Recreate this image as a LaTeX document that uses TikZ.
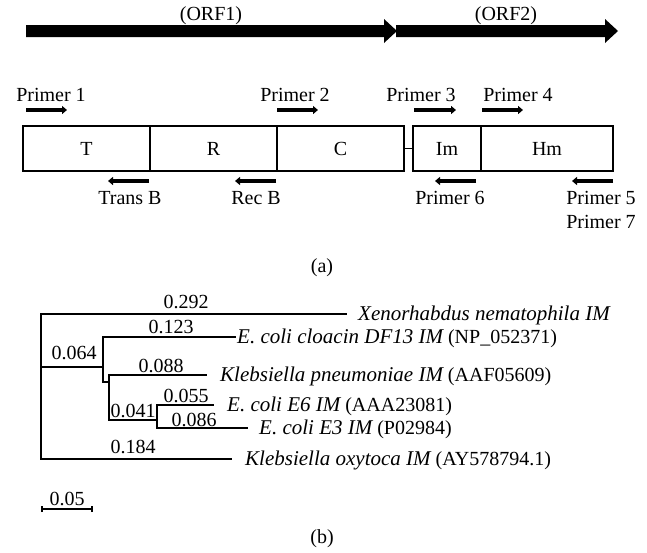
\documentclass[tikz,border=0pt]{standalone}
\usepackage{fontspec}
\setmainfont{Liberation Serif}
\usetikzlibrary{arrows.meta}
\newcommand{\taxit}[1]{{\fontsize{21}{24}\selectfont\itshape #1}}
\begin{document}
\begin{tikzpicture}[x=1pt,y=-1pt,
  lbl/.style={inner sep=0pt, font=\fontsize{20}{24}\selectfont, anchor=base},
  taxon/.style={lbl, anchor=base west},
  seg/.style={draw, line width=1.1pt, inner sep=0pt, minimum height=45pt, font=\fontsize{20}{24}\selectfont},
  primerarrow/.style={line width=3.8pt, -{Triangle[length=5pt,width=8pt]}},
  orf/.style={fill=black},
  treeline/.style={line width=1.2pt, line cap=rect}]
\useasboundingbox (0,0) rectangle (647,552);
% ---------- (a) ----------
\fill[orf] (26,25) -- (384,25) -- (384,19) -- (397,31) -- (384,43) -- (384,37) -- (26,37) -- cycle;
\fill[orf] (396,25) -- (605,25) -- (605,19) -- (618,31) -- (605,43) -- (605,37) -- (396,37) -- cycle;
\node[lbl] (orf1) at (211,20) {(ORF1)};
\node[lbl] (orf2) at (506,20) {(ORF2)};

\node[lbl] (pr1) at (51,101.5) {Primer 1};
\node[lbl] (pr2) at (295,101.5) {Primer 2};
\node[lbl] (pr3) at (421,101.5) {Primer 3};
\node[lbl] (pr4) at (518,101.5) {Primer 4};

\coordinate (a1s) at (26,110);  \coordinate (a1e) at (67,110);
\coordinate (a2s) at (277,110); \coordinate (a2e) at (318,110);
\coordinate (a3s) at (414,110); \coordinate (a3e) at (456,110);
\coordinate (a4s) at (482,110); \coordinate (a4e) at (523,110);
\draw[primerarrow] (a1s) -- (a1e);
\draw[primerarrow] (a2s) -- (a2e);
\draw[primerarrow] (a3s) -- (a3e);
\draw[primerarrow] (a4s) -- (a4e);

\node[seg, minimum width=127pt] (T) at (86.5,148.5) {T};
\node[seg, minimum width=127pt] (R) at (213.5,148.5) {R};
\node[seg, minimum width=127pt] (C) at (340.5,148.5) {C};
\node[seg, minimum width=68pt] (Im) at (447,148.5) {Im};
\node[seg, minimum width=132pt] (Hm) at (547,148.5) {Hm};
\draw[line width=1.1pt] (C.east) -- (Im.west);

\coordinate (b1s) at (149,181); \coordinate (b1e) at (108,181);
\coordinate (b2s) at (276,181); \coordinate (b2e) at (235,181);
\coordinate (b3s) at (476,181); \coordinate (b3e) at (435,181);
\coordinate (b4s) at (613,181); \coordinate (b4e) at (572,181);
\draw[primerarrow] (b1s) -- (b1e);
\draw[primerarrow] (b2s) -- (b2e);
\draw[primerarrow] (b3s) -- (b3e);
\draw[primerarrow] (b4s) -- (b4e);

\node[lbl] (transb) at (130,204.5) {Trans B};
\node[lbl] (recb) at (256,204.5) {Rec B};
\node[lbl] (pr6) at (450,204.5) {Primer 6};
\node[lbl] (pr5) at (601,204.5) {Primer 5};
\node[lbl] (pr7) at (601,228.5) {Primer 7};
\node[lbl] (capa) at (322,272.5) {(a)};

% ---------- (b) tree ----------
\coordinate (rt) at (41,314);
\coordinate (rb) at (41,459);
\coordinate (xe) at (346,314);
\coordinate (rm) at (41,367);
\coordinate (n1) at (103,367);
\coordinate (n1t) at (103,337);
\coordinate (n1b) at (103,382);
\coordinate (cle) at (235,337);
\coordinate (n2) at (109,382);
\coordinate (n2t) at (109,375);
\coordinate (n2b) at (109,420);
\coordinate (kpe) at (206,375);
\coordinate (n3) at (157,420);
\coordinate (n3t) at (157,405);
\coordinate (n3b) at (157,428);
\coordinate (e6e) at (213,405);
\coordinate (e3e) at (247,428);
\coordinate (oxe) at (231,459);

\draw[treeline] (xe) -- (rt) -- (rb) -- (oxe);
\draw[treeline] (rm) -- (n1);
\draw[treeline] (cle) -- (n1t) -- (n1b) -- (n2);
\draw[treeline] (kpe) -- (n2t) -- (n2b) -- (n3);
\draw[treeline] (e6e) -- (n3t) -- (n3b) -- (e3e);

\node[lbl] (d292) at (186,308.5) {0.292};
\node[lbl] (d123) at (171,333.5) {0.123};
\node[lbl] (d064) at (74,359.5) {0.064};
\node[lbl] (d088) at (161,372.5) {0.088};
\node[lbl] (d055) at (186,402.5) {0.055};
\node[lbl] (d041) at (133,417.5) {0.041};
\node[lbl] (d086) at (194,426.5) {0.086};
\node[lbl] (d184) at (133,453.5) {0.184};

\node[taxon] (txe) at (358,320.5) {\taxit{Xenorhabdus nematophila IM}};
\node[taxon] (tcl) at (237,343.5) {\taxit{E. coli cloacin DF13 IM} (NP\_052371)};
\node[taxon] (tkp) at (220,381.5) {\taxit{Klebsiella pneumoniae IM} (AAF05609)};
\node[taxon] (te6) at (227,411.5) {\taxit{E. coli E6 IM} (AAA23081)};
\node[taxon] (te3) at (259,434.5) {\taxit{E. coli E3 IM} (P02984)};
\node[taxon] (tox) at (245,465.5) {\taxit{Klebsiella oxytoca IM} (AY578794.1)};

\coordinate (sbl) at (42,509);
\coordinate (sbr) at (92,509);
\draw[line width=1.2pt] (sbl) -- (sbr);
\draw[line width=1.2pt] ([yshift=-3pt]sbl) -- ([yshift=3pt]sbl);
\draw[line width=1.2pt] ([yshift=-3pt]sbr) -- ([yshift=3pt]sbr);
\node[lbl] (d05) at (67,505.5) {0.05};
\node[lbl] (capb) at (322,543) {(b)};
\end{tikzpicture}
\end{document}
